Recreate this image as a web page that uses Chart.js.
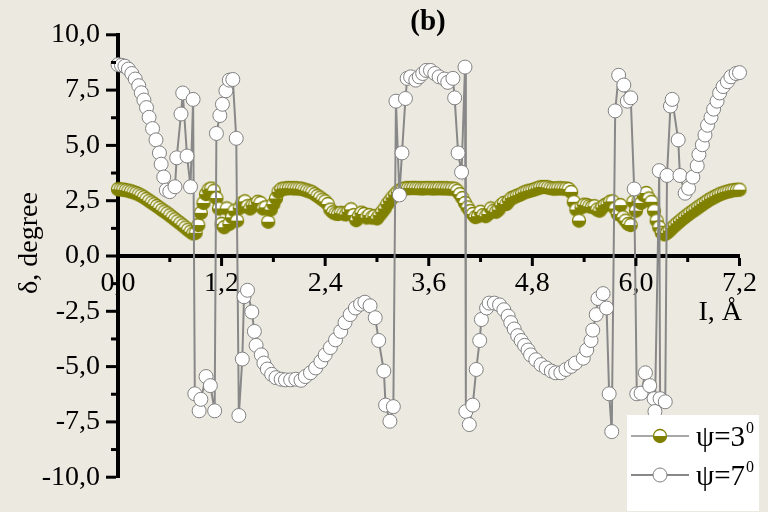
<!DOCTYPE html>
<html>
<head>
<meta charset="utf-8">
<script src="https://cdn.jsdelivr.net/npm/chart.js@4.4.1/dist/chart.umd.min.js"></script>
<style>
  html, body { margin: 0; padding: 0; background: #eceae0; }
  #wrap { width: 768px; height: 512px; position: relative; }
</style>
</head>
<body>
<div id="wrap"><canvas id="c"></canvas></div>
<script>
// psi = 3 deg : uniform step in I
var psi3Step = 0.03;
var psi3Y = [
  3.02,3.01,3.00,2.98,2.95,2.92,2.88,2.84,2.79,2.73,2.66,2.58,2.50,2.42,2.34,2.26,2.18,2.09,2.01,1.93,1.84,1.75,1.66,1.57,1.48,1.39,1.29,1.19,1.10,1.02,
  1.05,1.40,1.95,2.40,2.80,3.00,3.05,2.95,2.62,2.15,1.45,1.30,2.15,1.45,1.75,2.05,1.60,2.18,2.40,2.47,2.25,2.15,2.30,2.32,2.45,2.40,2.15,2.20,1.55,2.10,2.35,2.60,2.90,3.02,3.05,3.06,
  3.07,3.07,3.06,3.06,3.05,3.04,3.00,2.96,2.92,2.88,2.80,2.72,2.64,2.55,2.47,2.35,2.10,1.98,1.92,1.90,1.95,1.92,1.88,2.00,2.11,1.85,1.62,1.80,1.96,1.90,1.74,1.85,1.74,1.80,1.70,1.85,2.00,2.15,2.35,2.50,2.65,2.78,2.90,2.98,3.04,
  3.06,3.07,3.07,3.08,3.07,3.07,3.06,3.06,3.07,3.07,3.06,3.06,3.06,3.07,3.06,3.06,3.06,3.05,3.05,
  3.04,2.95,2.80,2.62,2.40,2.20,2.03,1.90,1.76,1.80,2.00,1.85,1.80,1.90,2.15,2.05,2.00,2.10,2.30,2.40,2.35,2.50,2.62,2.66,2.72,2.76,2.82,2.88,2.92,2.95,2.98,3.02,3.06,3.10,3.12,3.12,3.10,3.07,3.05,3.05,3.06,3.06,3.05,3.05,3.03,
  2.90,2.45,2.10,1.60,2.20,2.32,2.30,2.25,2.22,2.25,2.10,2.05,2.20,2.30,2.35,2.45,2.47,2.15,1.90,2.30,1.75,1.60,1.45,1.40,2.45,2.05,2.50,2.40,2.75,2.85,2.60,2.45,2.05,1.60,1.30,
  1.05,0.98,1.05,1.15,1.27,1.38,1.48,1.58,1.68,1.77,1.86,1.95,2.03,2.11,2.20,2.28,2.36,2.44,2.52,2.59,2.65,2.71,2.77,2.82,2.86,2.90,2.93,2.96,2.98,2.99,3.00
];

// psi = 7 deg
var psi7X = [
  0.00,0.04,0.08,0.12,0.16,0.20,0.24,0.27,0.30,0.33,0.36,0.40,0.44,0.48,0.50,0.53,0.56,0.60,0.66,0.68,0.73,0.75,0.80,0.84,0.87,
  0.89,0.94,0.96,1.02,1.07,1.12,1.14,1.18,1.21,1.25,1.29,1.33,1.37,1.40,1.44,1.46,1.50,1.55,1.58,1.60,1.66,1.69,1.73,1.78,1.83,
  1.89,1.94,2.00,2.06,2.12,2.17,2.23,2.29,2.35,2.40,2.46,2.52,2.58,2.63,2.69,2.75,2.81,2.86,2.92,2.98,3.02,3.08,3.10,3.15,3.19,
  3.22,3.26,3.29,3.33,3.35,3.39,3.45,3.49,3.53,3.57,3.62,3.67,3.72,3.78,3.82,3.88,3.90,3.94,3.98,4.02,4.03,4.07,4.11,4.15,4.19,
  4.21,4.27,4.30,4.36,4.42,4.47,4.52,4.55,4.59,4.63,4.67,4.71,4.75,4.78,4.84,4.90,4.96,5.02,5.07,5.13,5.19,5.25,5.30,5.39,5.43,
  5.48,5.50,5.54,5.56,5.62,5.66,5.69,5.72,5.76,5.80,5.86,5.90,5.94,5.98,6.01,6.06,6.11,6.16,6.21,6.22,6.27,6.28,6.34,6.36,6.40,
  6.42,6.49,6.51,6.57,6.61,6.66,6.71,6.73,6.77,6.80,6.83,6.87,6.90,6.94,6.97,7.01,7.06,7.10,7.16,7.20
];
var psi7Y = [
  8.65,8.62,8.58,8.45,8.25,8.00,7.70,7.38,7.05,6.71,6.27,5.76,5.25,4.66,4.15,3.57,2.98,2.91,3.13,4.44,6.42,7.37,4.52,3.13,7.08,
  -6.23,-7.00,-6.48,-5.45,-5.86,-7.00,5.54,6.35,6.86,7.47,7.95,7.98,5.32,-7.21,-4.66,-1.84,-1.55,-2.53,-3.41,-4.04,-4.47,-4.84,-5.11,-5.35,-5.50,
  -5.57,-5.60,-5.60,-5.57,-5.62,-5.45,-5.28,-5.06,-4.77,-4.47,-4.14,-3.79,-3.41,-3.01,-2.65,-2.35,-2.18,-2.09,-2.25,-2.79,-3.82,-5.20,-6.74,-7.47,-6.81,
  7.00,2.76,4.66,7.12,8.03,8.10,7.95,8.10,8.25,8.39,8.39,8.25,8.10,8.00,7.85,8.03,7.15,4.66,3.79,8.54,-7.03,-7.62,-6.74,-5.13,-3.82,
  -2.87,-2.35,-2.13,-2.13,-2.21,-2.43,-2.72,-3.01,-3.30,-3.60,-3.82,-4.04,-4.25,-4.47,-4.69,-4.91,-5.06,-5.20,-5.28,-5.28,-5.13,-4.99,-4.84,-4.62,-4.25,
  -3.82,-3.35,-2.65,-1.92,-1.70,-2.35,-6.23,-7.94,6.56,8.17,7.73,7.00,7.15,3.03,-6.23,-6.20,-5.28,-5.86,-6.45,-7.03,3.86,-6.45,-6.59,3.64,6.78,
  7.08,5.25,3.64,2.84,3.06,3.57,4.08,4.59,5.03,5.47,5.91,6.27,6.64,7.00,7.37,7.66,7.88,8.10,8.25,8.29
];

var seriesNames = ['\u03c8=3', '\u03c8=7'];
var olive = '#808000';

var psi3Data = psi3Y.map(function(v, i) { return { x: +(i * psi3Step).toFixed(3), y: v }; });
var psi7Data = psi7X.map(function(v, i) { return { x: v, y: psi7Y[i] }; });

// half filled circle marker (Origin style)
function halfDot(r) {
  var s = Math.ceil(r * 2 + 3);
  var c = document.createElement('canvas');
  c.width = s; c.height = s;
  var g = c.getContext('2d');
  var m = s / 2;
  g.beginPath(); g.arc(m, m, r, 0, Math.PI * 2); g.fillStyle = '#fff'; g.fill();
  g.beginPath(); g.arc(m, m, r, 0, Math.PI); g.closePath(); g.fillStyle = olive; g.fill();
  g.beginPath(); g.arc(m, m, r, 0, Math.PI * 2); g.lineWidth = 1.3; g.strokeStyle = olive; g.stroke();
  return c;
}
var dot3 = halfDot(6.5);

function comma(v) { return v.toFixed(1).replace('.', ','); }

// minor + major ticks, axis titles, legend, panel letter
var extras = {
  id: 'extras',
  afterDraw: function(chart) {
    var ctx = chart.ctx, xs = chart.scales.x, ys = chart.scales.y;
    var y0 = ys.getPixelForValue(0);
    var left = chart.chartArea.left;
    ctx.save();
    ctx.strokeStyle = '#000';
    ctx.lineWidth = 3;
    var i, p, len;
    for (i = 0; i <= 12; i++) {
      p = xs.getPixelForValue(i * 0.6);
      len = i % 2 ? 4 : 8;
      ctx.beginPath(); ctx.moveTo(p, y0 + 2); ctx.lineTo(p, y0 + 2 + len); ctx.stroke();
    }
    for (i = 0; i <= 16; i++) {
      p = ys.getPixelForValue(-10 + i * 1.25);
      len = i % 2 ? 5 : 10;
      ctx.beginPath(); ctx.moveTo(left - 2, p); ctx.lineTo(left - 2 - len, p); ctx.stroke();
    }

    ctx.fillStyle = '#000';
    // y axis title
    ctx.save();
    ctx.translate(30, 243);
    ctx.rotate(-Math.PI / 2);
    ctx.font = '28px "Liberation Serif"';
    ctx.textAlign = 'center'; ctx.textBaseline = 'middle';
    ctx.fillText('\u03b4, degree', 0, 0);
    ctx.restore();

    // x axis title
    ctx.font = '28px "Liberation Serif"';
    ctx.textAlign = 'right'; ctx.textBaseline = 'middle';
    ctx.fillText('I, \u00c5', 742, 313);

    // panel letter
    ctx.font = 'bold 29px "Liberation Serif"';
    ctx.textAlign = 'center'; ctx.textBaseline = 'middle';
    ctx.fillText('(b)', 428, 23);

    // legend
    ctx.fillStyle = '#fff';
    ctx.fillRect(627, 415, 132, 96);
    var rows = [436, 475];
    var lineCols = ['#a8a8a8', '#888888'];
    rows.forEach(function(ry, k) {
      ctx.strokeStyle = lineCols[k]; ctx.lineWidth = 2;
      ctx.beginPath(); ctx.moveTo(631, ry); ctx.lineTo(689, ry); ctx.stroke();
      if (k === 0) {
        ctx.drawImage(dot3, 660 - dot3.width / 2, ry - dot3.height / 2);
      } else {
        ctx.beginPath(); ctx.arc(660, ry, 7, 0, Math.PI * 2);
        ctx.fillStyle = '#fff'; ctx.fill();
        ctx.lineWidth = 1; ctx.strokeStyle = '#808080'; ctx.stroke();
      }
      ctx.fillStyle = '#000';
      ctx.textAlign = 'left'; ctx.textBaseline = 'alphabetic';
      ctx.font = '29px "Liberation Serif"';
      ctx.fillText(seriesNames[k], 696, ry + 10);
      var w = ctx.measureText(seriesNames[k]).width;
      ctx.font = '16px "Liberation Serif"';
      ctx.fillText('0', 696 + w + 1, ry - 3);
    });
    ctx.restore();
  }
};

Chart.defaults.font.family = '"Liberation Serif", serif';
Chart.defaults.color = '#000';

new Chart(document.getElementById('c'), {
  type: 'line',
  data: {
    datasets: [{
      label: seriesNames[1],
      data: psi7Data,
      order: 0,
      borderColor: '#888888',
      borderWidth: 2,
      pointRadius: 7,
      pointBackgroundColor: '#ffffff',
      pointBorderColor: '#808080',
      pointBorderWidth: 1,
      clip: false
    }, {
      label: seriesNames[0],
      data: psi3Data,
      order: 1,
      borderColor: '#a8a8a8',
      borderWidth: 1,
      pointStyle: dot3,
      pointRadius: 6.5,
      clip: false
    }]
  },
  options: {
    responsive: true,
    maintainAspectRatio: false,
    animation: false,
    layout: { padding: { top: 17, right: 17, bottom: 28, left: 0 } },
    plugins: { legend: { display: false }, tooltip: { enabled: false } },
    scales: {
      x: {
        type: 'linear',
        position: { y: 0 },
        min: 0, max: 7.2,
        grid: { display: false, drawTicks: false },
        border: { display: true, color: '#000', width: 4 },
        ticks: {
          stepSize: 1.2,
          padding: 11,
          font: { size: 28 },
          maxRotation: 0,
          callback: function(v) { return comma(v); }
        },
        title: { display: false }
      },
      y: {
        type: 'linear',
        min: -10, max: 10,
        afterFit: function(s) { s.width = 118; },
        grid: { display: false, drawTicks: false },
        border: { display: true, color: '#000', width: 4 },
        ticks: {
          stepSize: 2.5,
          padding: 18,
          font: { size: 28 },
          callback: function(v) { return comma(v); }
        },
        title: { display: false }
      }
    }
  },
  plugins: [extras]
});
</script>
</body>
</html>
